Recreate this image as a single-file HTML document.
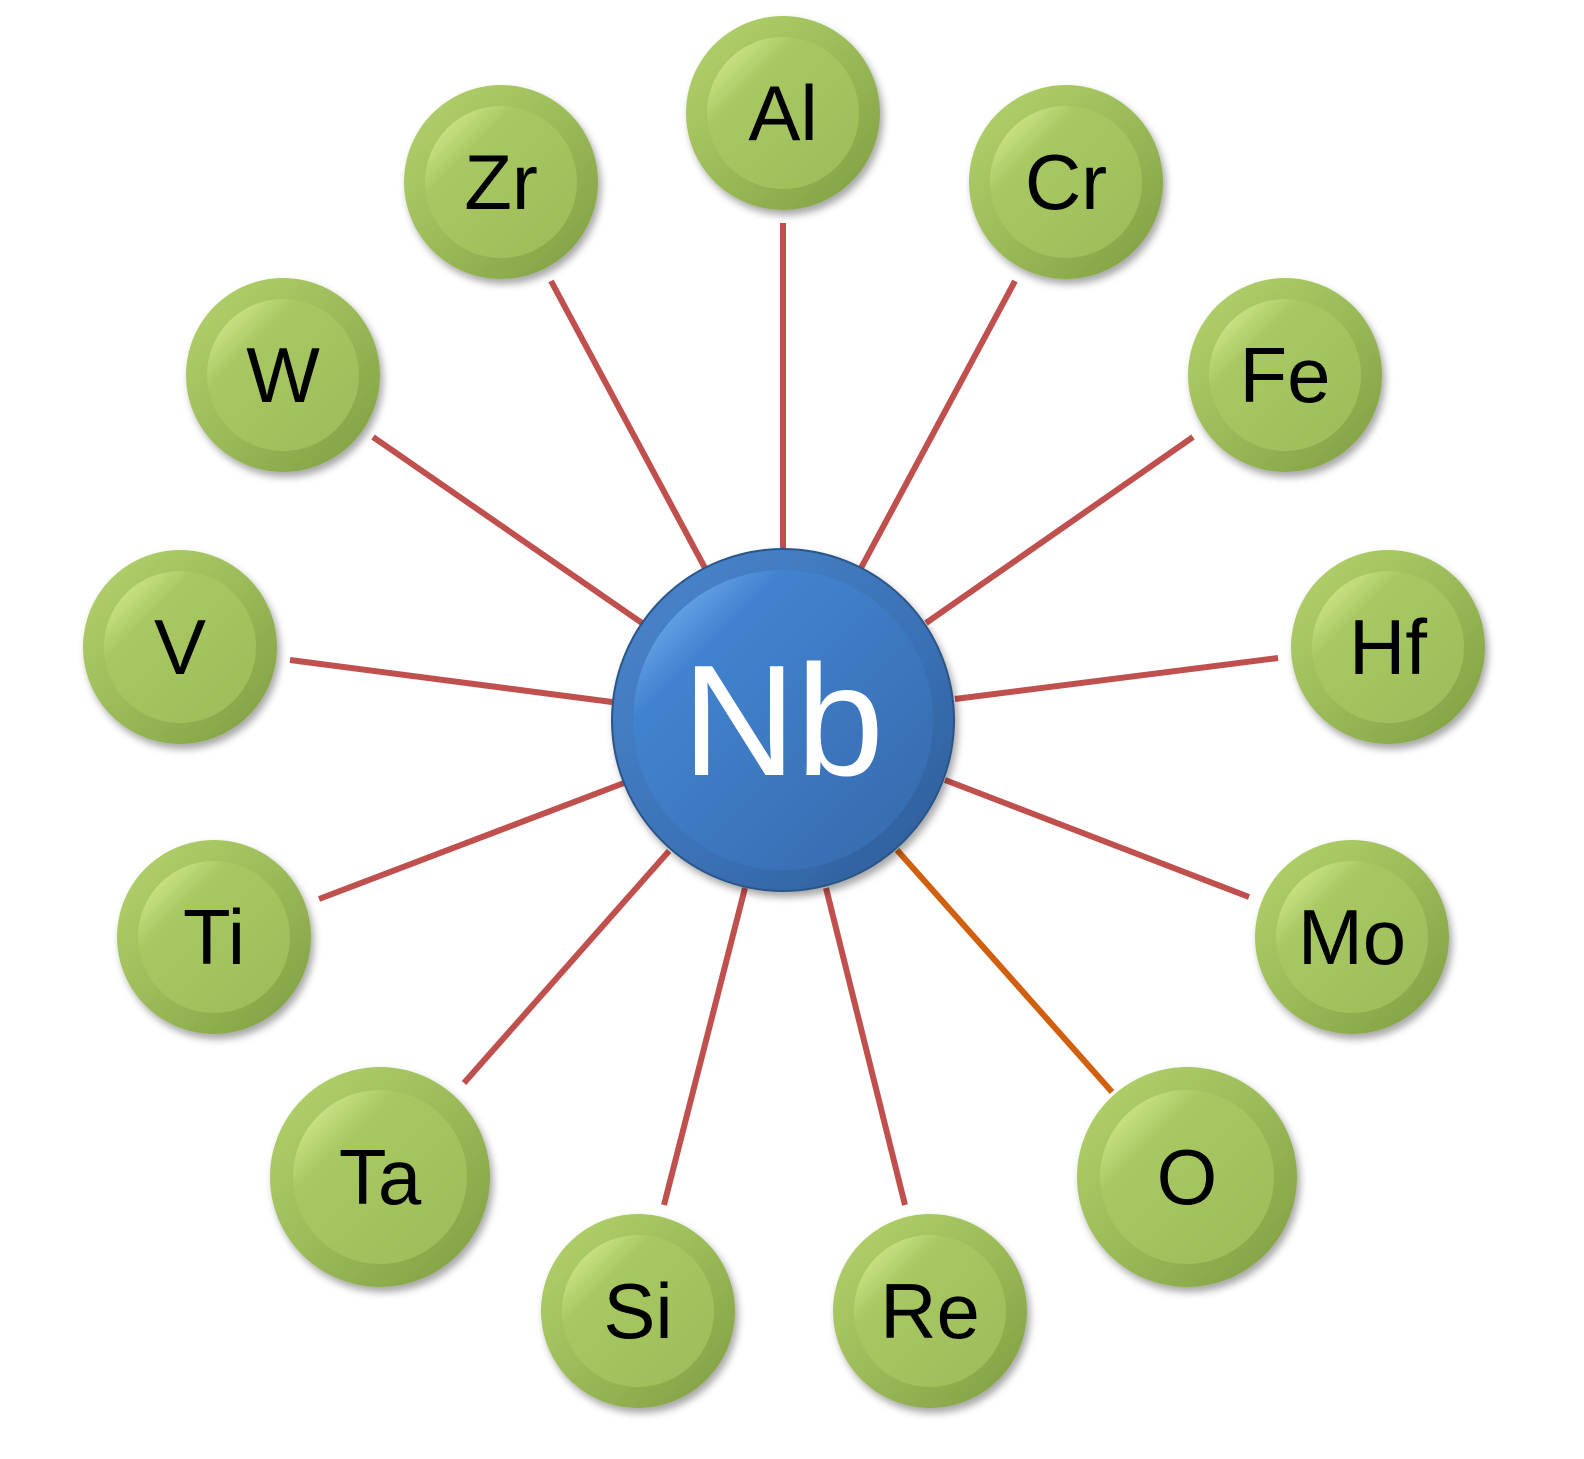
<!DOCTYPE html>
<html><head><meta charset="utf-8"><style>html,body{margin:0;padding:0;background:#fff}svg{display:block}</style></head>
<body>
<svg width="1584" height="1459" viewBox="0 0 1584 1459" xmlns="http://www.w3.org/2000/svg">
<defs>
<linearGradient id="gOut" x1="0" y1="0" x2="1" y2="1"><stop offset="0" stop-color="#b5d46e"/><stop offset="0.5" stop-color="#9bbb59"/><stop offset="1" stop-color="#7e9d42"/></linearGradient>
<linearGradient id="gIn" x1="0" y1="0" x2="1" y2="1"><stop offset="0" stop-color="#e4f7a0"/><stop offset="0.3" stop-color="#a8c862"/><stop offset="1" stop-color="#9cbc5a"/></linearGradient>
<linearGradient id="bOut" x1="0" y1="0" x2="1" y2="1"><stop offset="0" stop-color="#4a86cc"/><stop offset="0.6" stop-color="#3a70b5"/><stop offset="1" stop-color="#2c5a94"/></linearGradient>
<linearGradient id="bIn" x1="0" y1="0" x2="1" y2="1"><stop offset="0" stop-color="#8cc4ff"/><stop offset="0.25" stop-color="#4183cf"/><stop offset="1" stop-color="#3668aa"/></linearGradient>
<filter id="sh" x="-20%" y="-20%" width="150%" height="150%"><feDropShadow dx="3" dy="5" stdDeviation="4" flood-color="#000" flood-opacity="0.35"/></filter>
</defs>
<g stroke="#c0504d" stroke-width="6" fill="none">
<line x1="783" y1="223" x2="783" y2="550"/>
<line x1="551" y1="281" x2="705" y2="568"/>
<line x1="1015" y1="281" x2="861" y2="568"/>
<line x1="373" y1="437" x2="642" y2="623"/>
<line x1="1193" y1="437" x2="926" y2="623"/>
<line x1="290" y1="660" x2="612" y2="702"/>
<line x1="1278" y1="658" x2="955" y2="699"/>
<line x1="319" y1="899" x2="624" y2="783"/>
<line x1="1249" y1="897" x2="945" y2="780"/>
<line x1="464" y1="1083" x2="669" y2="851"/>
<line x1="664" y1="1205" x2="745" y2="888"/>
<line x1="905" y1="1205" x2="826" y2="888"/>
<line x1="1112" y1="1092" x2="897" y2="850" stroke="#d0600e"/>
</g>
<g font-family="'Liberation Sans', sans-serif" font-size="80" text-anchor="middle" fill="#000">
<g id="n">
</g>
</g>
<g font-family="'Liberation Sans', sans-serif" font-size="78" text-anchor="middle" fill="#000">
<g transform="translate(783,113)"><circle r="97" fill="url(#gOut)" filter="url(#sh)"/><circle r="76" fill="url(#gIn)"/><text y="27">Al</text></g>
<g transform="translate(501,182)"><circle r="97" fill="url(#gOut)" filter="url(#sh)"/><circle r="76" fill="url(#gIn)"/><text y="27">Zr</text></g>
<g transform="translate(1066,182)"><circle r="97" fill="url(#gOut)" filter="url(#sh)"/><circle r="76" fill="url(#gIn)"/><text y="27">Cr</text></g>
<g transform="translate(283,375)"><circle r="97" fill="url(#gOut)" filter="url(#sh)"/><circle r="76" fill="url(#gIn)"/><text y="27">W</text></g>
<g transform="translate(1285,375)"><circle r="97" fill="url(#gOut)" filter="url(#sh)"/><circle r="76" fill="url(#gIn)"/><text y="27">Fe</text></g>
<g transform="translate(180,647)"><circle r="97" fill="url(#gOut)" filter="url(#sh)"/><circle r="76" fill="url(#gIn)"/><text y="27">V</text></g>
<g transform="translate(1388,647)"><circle r="97" fill="url(#gOut)" filter="url(#sh)"/><circle r="76" fill="url(#gIn)"/><text y="27">Hf</text></g>
<g transform="translate(214,937)"><circle r="97" fill="url(#gOut)" filter="url(#sh)"/><circle r="76" fill="url(#gIn)"/><text y="27">Ti</text></g>
<g transform="translate(1352,937)"><circle r="97" fill="url(#gOut)" filter="url(#sh)"/><circle r="76" fill="url(#gIn)"/><text y="27">Mo</text></g>
<g transform="translate(380,1177)"><circle r="110" fill="url(#gOut)" filter="url(#sh)"/><circle r="87" fill="url(#gIn)"/><text y="27">Ta</text></g>
<g transform="translate(1187,1177)"><circle r="110" fill="url(#gOut)" filter="url(#sh)"/><circle r="87" fill="url(#gIn)"/><text y="27">O</text></g>
<g transform="translate(638,1311)"><circle r="97" fill="url(#gOut)" filter="url(#sh)"/><circle r="76" fill="url(#gIn)"/><text y="27">Si</text></g>
<g transform="translate(930,1311)"><circle r="97" fill="url(#gOut)" filter="url(#sh)"/><circle r="76" fill="url(#gIn)"/><text y="27">Re</text></g>
<g transform="translate(783,720)"><circle r="171" fill="url(#bOut)" filter="url(#sh)" stroke="#2a5487" stroke-width="2"/><circle r="150" fill="url(#bIn)"/><text y="55" font-size="158" fill="#fff">Nb</text></g>
</g>
</svg>
</body></html>
